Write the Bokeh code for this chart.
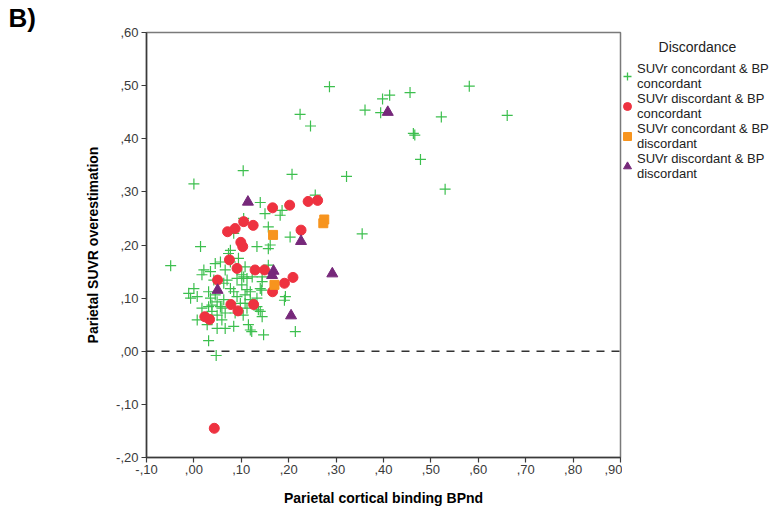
from bokeh.plotting import figure
from bokeh.layouts import row
from bokeh.models import Range1d, FixedTicker, Span, Legend, LegendItem, Label
from bokeh.embed import file_html
from bokeh.resources import INLINE

# ---------------- data ----------------
green_x = [-0.049, 0.000, 0.104, 0.207, 0.224, 0.246, 0.286, 0.581, 0.413, 0.398,
           0.456, 0.361, 0.394, 0.522, 0.661, 0.463, 0.466, 0.478, 0.322, 0.530,
           0.355, 0.256, 0.140, 0.150, 0.182, 0.186, 0.157, 0.161, 0.157, 0.133,
           0.203, 0.014,
           0.073, 0.077, 0.056, 0.045, 0.021, 0.017, 0.035, 0.042, 0.066, 0.091,
           0.101, 0.112, 0.123, 0.101, 0.077, 0.084, 0.063, 0.070, -0.011, 0.000,
           -0.007, 0.007, 0.031, 0.035, 0.045, 0.049, 0.056, 0.038, 0.063, 0.091,
           0.098, 0.108, 0.119, 0.119, 0.133, 0.140, 0.144, 0.112, 0.133, 0.140,
           0.087, 0.066, 0.038, 0.007, 0.028, 0.049, 0.066, 0.084, 0.115, 0.119,
           0.147, 0.031, 0.214, 0.191, 0.193, 0.108, 0.094, 0.047, 0.157, 0.144,
           0.143, 0.136, 0.144, 0.105, 0.112, 0.108, 0.104, 0.049, 0.017, 0.084,
           0.105, 0.122, 0.059, 0.031, 0.059, 0.077]
green_y = [0.161, 0.315, 0.340, 0.333, 0.446, 0.424, 0.498, 0.499, 0.482, 0.475,
           0.487, 0.454, 0.449, 0.441, 0.444, 0.410, 0.407, 0.361, 0.329, 0.305,
           0.221, 0.294, 0.280, 0.259, 0.256, 0.265, 0.234, 0.200, 0.193, 0.197,
           0.215, 0.197,
           0.184, 0.168, 0.168, 0.165, 0.153, 0.144, 0.150, 0.134, 0.153, 0.137,
           0.144, 0.137, 0.140, 0.125, 0.118, 0.112, 0.128, 0.134, 0.109, 0.118,
           0.100, 0.103, 0.112, 0.100, 0.106, 0.093, 0.084, 0.087, 0.097, 0.103,
           0.090, 0.106, 0.112, 0.097, 0.100, 0.118, 0.131, 0.081, 0.084, 0.075,
           0.072, 0.072, 0.075, 0.059, 0.050, 0.043, 0.043, 0.047, 0.050, 0.040,
           0.031, 0.020, 0.037, 0.096, 0.103, 0.159, 0.175, -0.008, 0.162, 0.140,
           0.115, 0.078, 0.065, 0.140, 0.116, 0.090, 0.068, 0.068, 0.081, 0.222,
           0.250, 0.037, 0.059, 0.084, 0.081, 0.190]

red_x = [0.071, 0.087, 0.105, 0.125, 0.166, 0.202, 0.241, 0.261, 0.226, 0.099,
         0.103, 0.075, 0.091, 0.050, 0.129, 0.149, 0.191, 0.209, 0.166, 0.126,
         0.078, 0.093, 0.023, 0.033, 0.043]
red_y = [0.225, 0.231, 0.244, 0.237, 0.270, 0.275, 0.282, 0.284, 0.228, 0.205,
         0.197, 0.172, 0.156, 0.134, 0.153, 0.153, 0.128, 0.139, 0.112, 0.088,
         0.088, 0.076, 0.065, 0.060, -0.145]

orange_x = [0.167, 0.170, 0.275, 0.273]
orange_y = [0.219, 0.125, 0.248, 0.241]

purple_x = [0.114, 0.226, 0.168, 0.165, 0.050, 0.205, 0.292, 0.409]
purple_y = [0.281, 0.207, 0.151, 0.143, 0.115, 0.067, 0.146, 0.450]

x_ticks = [-0.1, 0.0, 0.1, 0.2, 0.3, 0.4, 0.5, 0.6, 0.7, 0.8, 0.9]
x_labels = ["-,10", ",00", ",10", ",20", ",30", ",40", ",50", ",60", ",70", ",80", ",90"]
y_ticks = [-0.2, -0.1, 0.0, 0.1, 0.2, 0.3, 0.4, 0.5, 0.6]
y_labels = ["-,20", "-,10", ",00", ",10", ",20", ",30", ",40", ",50", ",60"]

series_labels = ["SUVr concordant & BP\nconcordant",
                 "SUVr discordant & BP\nconcordant",
                 "SUVr concordant & BP\ndiscordant",
                 "SUVr discordant & BP\ndiscordant"]
legend_title = "Discordance"
panel_tag = "B)"

FONT = "Liberation Sans"
GREEN, RED, ORANGE, PURPLE = "#3cbf4e", "#ee3240", "#f7941e", "#76287a"

TOP, BOTTOM, HEIGHT = 30, 60, 517

# ---------------- main plot ----------------
p = figure(width=622, height=HEIGHT, output_backend="svg", toolbar_location=None,
           x_range=Range1d(-0.1, 0.9), y_range=Range1d(-0.2, 0.6),
           min_border_left=146, min_border_right=2, min_border_top=TOP,
           min_border_bottom=BOTTOM)
p.background_fill_color = "white"
p.border_fill_color = "white"
p.outline_line_color = "#7a7a7a"
p.outline_line_width = 1.5
p.grid.visible = False

p.title.text = panel_tag
p.title.align = "left"
p.title.offset = -138
p.title.standoff = 0
p.title.text_font = FONT
p.title.text_font_size = "26px"
p.title.text_font_style = "bold"
p.title.text_color = "black"

p.xaxis.ticker = FixedTicker(ticks=x_ticks)
p.xaxis.major_label_overrides = dict(zip(x_ticks, x_labels))
p.yaxis.ticker = FixedTicker(ticks=y_ticks)
p.yaxis.major_label_overrides = dict(zip(y_ticks, y_labels))

for ax in (p.xaxis, p.yaxis):
    ax.axis_line_color = "#3a3a3a"
    ax.axis_line_width = 1.5
    ax.major_tick_line_color = "#3a3a3a"
    ax.major_tick_line_width = 1.2
    ax.major_tick_in = 0
    ax.major_tick_out = 5
    ax.minor_tick_line_color = None
    ax.major_label_text_font = FONT
    ax.major_label_text_font_size = "13px"
    ax.major_label_text_color = "#3a3a3a"
    ax.axis_label_text_font = FONT
    ax.axis_label_text_font_size = "14px"
    ax.axis_label_text_font_style = "bold"
    ax.axis_label_text_color = "black"

p.xaxis.axis_label = "Parietal cortical binding BPnd"
p.yaxis.axis_label = "Parietal SUVR overestimation"
p.xaxis.major_label_standoff = 2
p.yaxis.major_label_standoff = 3
p.xaxis.axis_label_standoff = 13
p.yaxis.axis_label_standoff = 12

p.add_layout(Span(location=0, dimension="width", line_color="#333333",
                  line_width=1.5, line_dash="8 7"))

p.scatter(green_x, green_y, marker="cross", size=11, line_color=GREEN, line_width=1.2)
p.scatter(red_x, red_y, marker="circle", size=10, fill_color=RED, line_color=RED)
p.scatter(orange_x, orange_y, marker="square", size=9, fill_color=ORANGE,
          line_color=ORANGE)
p.scatter(purple_x, purple_y, marker="triangle", size=11, fill_color=PURPLE,
          line_color=PURPLE)

# ---------------- legend panel ----------------
# data units of this panel equal page pixels (x from 622, y from the top)
q = figure(width=150, height=HEIGHT, output_backend="svg", toolbar_location=None,
           x_range=Range1d(0, 150), y_range=Range1d(HEIGHT - BOTTOM, TOP),
           min_border_left=0, min_border_right=0, min_border_top=TOP,
           min_border_bottom=BOTTOM)
q.axis.visible = False
q.grid.visible = False
q.outline_line_color = None
q.background_fill_color = "white"
q.border_fill_color = "white"

# one hidden point each (outside the panel's range) so the legend can draw its glyphs
lg = q.scatter([-50], [-50], marker="cross", size=11, line_color=GREEN, line_width=1.3)
lr = q.scatter([-50], [-50], marker="circle", size=10, fill_color=RED, line_color=RED)
lo = q.scatter([-50], [-50], marker="square", size=9, fill_color=ORANGE, line_color=ORANGE)
lp = q.scatter([-50], [-50], marker="triangle", size=11, fill_color=PURPLE, line_color=PURPLE)

legend = Legend(items=[LegendItem(label=series_labels[0], renderers=[lg]),
                       LegendItem(label=series_labels[1], renderers=[lr]),
                       LegendItem(label=series_labels[2], renderers=[lo]),
                       LegendItem(label=series_labels[3], renderers=[lp])],
                location=(-5, 276), padding=0, margin=0, spacing=0,
                glyph_width=20, glyph_height=20, label_standoff=0,
                label_text_font=FONT, label_text_font_size="13px",
                label_text_line_height=0.95,
                label_text_color="#222222",
                border_line_color=None, background_fill_alpha=0)
q.add_layout(legend, "center")

q.add_layout(Label(x=75, y=45, text=legend_title, text_align="center",
                   text_baseline="middle", text_font=FONT, text_font_size="14px",
                   text_color="#222222"))

open("out.html", "w").write(file_html(row(p, q), INLINE))
